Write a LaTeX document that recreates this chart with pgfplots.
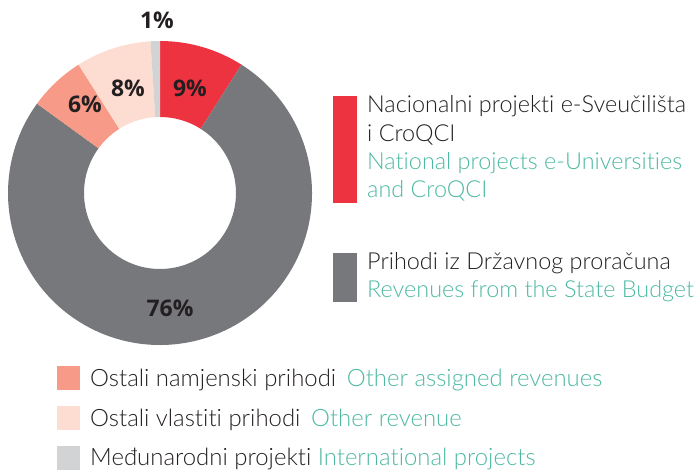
\documentclass[border=0pt]{standalone}
\usepackage{pgfplots}
\pgfplotsset{compat=1.18}
\usepackage{fontspec}
\setmainfont{Lato}[UprightFont=* Light, RawFeature=-liga]
\newfontfamily\pctfont{Open Sans}
\definecolor{cred}{HTML}{EE3340}
\definecolor{cgray}{HTML}{77787B}
\definecolor{csalmon}{HTML}{F79A88}
\definecolor{cpeach}{HTML}{FDDDD2}
\definecolor{clgray}{HTML}{D1D3D4}
\definecolor{cteal}{HTML}{4DB9A2}
\definecolor{ctext}{HTML}{231F20}
% shares in percent, clockwise from 12 o'clock
\def\vRed{9}\def\vGray{76}\def\vSalmon{6}\def\vPeach{8}\def\vLgray{1}
\newcommand\donutslice[3]{% color, start angle, end angle
  \fill[#1] (axis cs:160,277) ++({#2}:152bp) arc[start angle={#2}, end angle={#3}, radius=152bp]
    -- ++({#3}:-76bp) arc[start angle={#3}, end angle={#2}, radius=76bp] -- cycle;}
\begin{document}
\begin{tikzpicture}
\begin{axis}[width=699bp,height=470bp,scale only axis,
  xmin=0,xmax=699,ymin=0,ymax=470,hide axis,clip=false]
\path (axis cs:0,0) rectangle (axis cs:699,470);
\donutslice{cred}{90}{90-\vRed*3.6}
\donutslice{cgray}{90-\vRed*3.6}{90-(\vRed+\vGray)*3.6}
\donutslice{csalmon}{90-(\vRed+\vGray)*3.6}{90-(\vRed+\vGray+\vSalmon)*3.6}
\donutslice{cpeach}{90-(\vRed+\vGray+\vSalmon)*3.6}{90-(\vRed+\vGray+\vSalmon+\vPeach)*3.6}
\donutslice{clgray}{90-(\vRed+\vGray+\vSalmon+\vPeach)*3.6}{-270}
% percentage labels
\begin{scope}[every node/.style={font=\pctfont\bfseries\fontsize{23}{25}\selectfont, text=ctext}]
\node at (axis cs:157,450) {\vLgray\%};
\node at (axis cs:190,382) {\vRed\%};
\node at (axis cs:128,382) {\vPeach\%};
\node at (axis cs:85,366) {\vSalmon\%};
\node at (axis cs:170,162) {\vGray\%};
\end{scope}
% right legend
\fill[cred] (axis cs:333,267) rectangle (axis cs:357,374);
\fill[cgray] (axis cs:333,168) rectangle (axis cs:357,217);
\begin{scope}[every node/.style={anchor=base west, inner sep=0pt, font=\fontsize{23.5}{28}\selectfont}]
\node[text=ctext] at (axis cs:367,357) {Nacionalni projekti e-Sveučilišta};
\node[text=ctext] at (axis cs:367,328) {i CroQCI};
\node[text=cteal] at (axis cs:367,300) {National projects e-Universities};
\node[text=cteal] at (axis cs:367,272) {and CroQCI};
\node[text=ctext] at (axis cs:367,200) {Prihodi iz Državnog proračuna};
\node[text=cteal] at (axis cs:367,172) {Revenues from the State Budget};
\end{scope}
% bottom legend
\begin{scope}[every node/.style={anchor=base west, inner sep=0pt, font=\fontsize{24}{28}\selectfont}]
\node[text=ctext] at (axis cs:90,83) {Ostali namjenski prihodi\hspace{0.45em}\textcolor{cteal}{Other assigned revenues}};
\node[text=ctext] at (axis cs:90,43) {Ostali vlastiti prihodi\hspace{0.45em}\textcolor{cteal}{Other revenue}};
\node[text=ctext] at (axis cs:90,4) {Međunarodni projekti \textcolor{cteal}{International projects}};
\end{scope}
\fill[csalmon] (axis cs:57,80) rectangle (axis cs:80,104);
\fill[cpeach] (axis cs:57,40) rectangle (axis cs:80,64);
\fill[clgray] (axis cs:57,0) rectangle (axis cs:80,24);
\end{axis}
\end{tikzpicture}
\end{document}
